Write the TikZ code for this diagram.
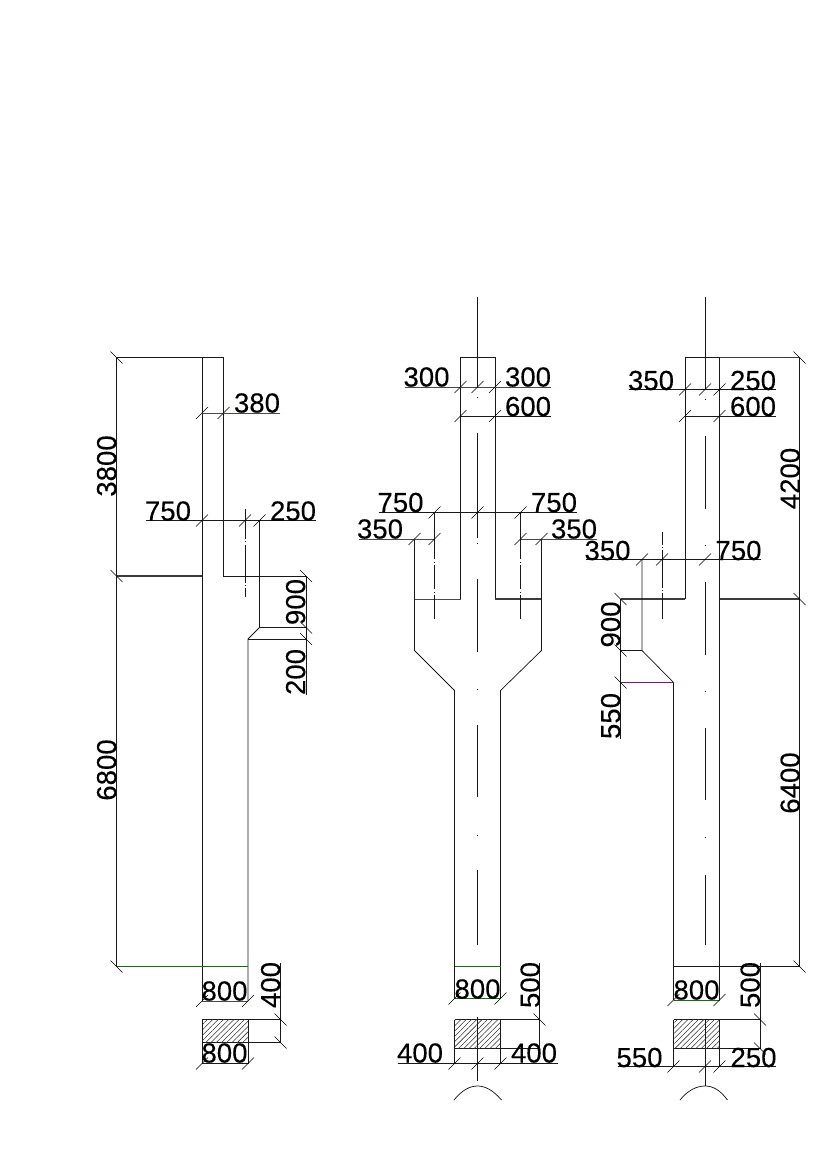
\documentclass[tikz,border=0pt]{standalone}
\usepackage{fontspec}
\setmainfont[FakeBold=0.12]{Liberation Sans}
\usetikzlibrary{patterns.meta}
\definecolor{penline}{gray}{0.1}
\definecolor{dimgreen}{rgb}{0.18,0.36,0.18}
\definecolor{dimpurple}{rgb}{0.36,0.16,0.36}
\tikzset{%
  wall/.style={draw=penline, line width=0.55pt},
  wallthick/.style={draw=penline!85, line width=0.95pt},
  dimgr/.style={draw=dimgreen, line width=0.55pt},
  dimpu/.style={draw=dimpurple, line width=0.55pt},
  axisdash/.style={draw=penline, line width=0.55pt},
  slash/.style={draw=black, line width=0.5pt},
  hatched/.style={pattern={Lines[angle=45,distance=2.8pt,line width=0.4pt]}, pattern color=black!80},
  labbase/.style={inner sep=0pt, font=\fontsize{20.7}{22}\selectfont, text=black},
  lab/.style={labbase, yshift=-0.75pt},
  labv/.style={labbase, xshift=0.5pt, rotate=90},
}
\newcommand{\tickf}[2]{\draw [slash] (#1-6,#2+6) -- (#1+6,#2-6);}
\newcommand{\tickb}[2]{\draw [slash] (#1-6,#2-6) -- (#1+6,#2+6);}
\begin{document}
\begin{tikzpicture}[x=0.75pt,y=-0.75pt]
  \useasboundingbox (0,0) rectangle (826,1169);

  % left column
  \draw [wall] (116.5,357.5) -- (223.5,357.5) -- (223.5,576) -- (306,576);
  \draw [wall] (202,357.5) -- (202,1001);
  \draw [wallthick] (116.5,576) -- (202,576);
  \draw [wall] (259.5,520.5) -- (259.5,627.5) -- (248,639) -- (248,1001);
  \draw [wall] (259.5,627.5) -- (306,627.5);
  \draw [wall] (248,639) -- (306,639);
  \draw [wall] (116.5,357.5) -- (116.5,966.5);
  \draw [dimgr] (116.5,966.5) -- (248,966.5);
  \draw [wall] (306,576) -- (306,695);
  \draw [dimgr] (202,413) -- (280,413);
  \draw [wall] (145.5,520.5) -- (316,520.5);
  \foreach \ya/\yb in {509/539,544.5/582.5,587.5/597}
    {\draw [axisdash] (245,\ya) -- (245,\yb);}
  \foreach \yy in {541.5,585}
    {\draw [axisdash] (244.5,\yy) -- (245.5,\yy);}
  \draw [dimgr] (202,1001) -- (248,1001);
  \draw [wall] (202,1019.5) -- (280.5,1019.5) (202,1042.5) -- (280.5,1042.5);
  \draw [wall] (280.5,963) -- (280.5,1042.5);
  \path [hatched] (202,1019.5) rectangle (248,1042.5);
  \draw [wall] (202,1019.5) -- (202,1063.5) (248,1019.5) -- (248,1063.5);
  \draw [wall] (202,1063.5) -- (248,1063.5);
  \foreach \x/\y in {202/413,223.5/413,202/520.5,245/520.5,259.5/520.5,202/1001,248/1001,202/1063.5,248/1063.5}
    {\tickf{\x}{\y}}
  \foreach \x/\y in {116.5/357.5,116.5/576,116.5/966.5,306/576,306/627.5,306/639,280.5/1019.5,280.5/1042.5}
    {\tickb{\x}{\y}}
  \node (a3800) [labv] at (106,466) {3800};
  \node (a6800) [labv] at (106,770) {6800};
  \node (a380) [lab] at (257,402) {380};
  \node (a750) [lab] at (168,510) {750};
  \node (a250) [lab] at (293,510) {250};
  \node (a900) [labv] at (295,602) {900};
  \node (a200) [labv] at (295,672) {200};
  \node (a800t) [lab] at (224.5,990) {800};
  \node (a400) [labv] at (270,985) {400};
  \node (a800b) [lab] at (224.5,1052) {800};

  % middle column
  \draw [wall] (477.5,297) -- (477.5,387);
  \foreach \ya/\yb in {433/538,579/652,725/797,870/945}
    {\draw [axisdash] (477.5,\ya) -- (477.5,\yb);}
  \foreach \yy in {397,543,689,835}
    {\draw [axisdash] (477,\yy) -- (478,\yy);}
  \draw [wall] (460.5,599) -- (460.5,357.5) -- (495,357.5) -- (495,599);
  \draw [dimgr] (414.5,599) -- (460.5,599);
  \draw [wallthick] (495,599) -- (541.5,599);
  \draw [wall] (414.5,538.5) -- (414.5,650.5) -- (454.5,690.5) -- (454.5,998.5);
  \draw [wall] (541.5,538.5) -- (541.5,650.5) -- (500.5,690.5) -- (500.5,998.5);
  \draw [dimgr] (404.5,387) -- (551,387);
  \draw [wall] (460.5,416) -- (551,416);
  \draw [wall] (378.5,512.5) -- (576.5,512.5);
  \draw [dimgr] (358.5,539) -- (434.5,539) (520.5,539) -- (596.5,539);
  \foreach \x in {434.5,520.5}{
    \foreach \ya/\yb in {512.5/559,565/589,595/619}
      {\draw [axisdash] (\x,\ya) -- (\x,\yb);}
    \foreach \yy in {562,592}
      {\draw [axisdash] (\x,\yy) -- (\x,\yy+1);}
  }
  \draw [dimgr] (454.5,966.5) -- (500.5,966.5);
  \draw [dimgr] (454.5,998.5) -- (500.5,998.5);
  \draw [wall] (454.5,1019.5) -- (539.5,1019.5);
  \draw [wall] (539.5,963) -- (539.5,1048.5);
  \draw [wall] (454.5,1048.5) -- (539.5,1048.5);
  \path [hatched] (454.5,1019.5) rectangle (500.5,1048.5);
  \draw [wall] (454.5,1019.5) -- (454.5,1063.5) (500.5,1019.5) -- (500.5,1063.5);
  \draw [wall] (397.5,1063.5) -- (557.5,1063.5);
  \draw [wall] (477.5,1017) -- (477.5,1081);
  \draw [wall] (454,1100) .. controls (462,1090) and (470,1086) .. (477.5,1086) .. controls (485,1086) and (493,1090) .. (501.5,1100);
  \foreach \x/\y in {460.5/387,477.5/387,495/387,460.5/416,495/416,434.5/512.5,477.5/512.5,520.5/512.5,414.5/539,434.5/539,520.5/539,541.5/539,454.5/998.5,500.5/998.5,454.5/1063.5,477.5/1063.5,500.5/1063.5}
    {\tickf{\x}{\y}}
  \tickb{539.5}{1019.5}
  \node (b300l) [lab] at (426.5,376) {300};
  \node (b300r) [lab] at (528,376) {300};
  \node (b600) [lab] at (528,405.5) {600};
  \node (b750l) [lab] at (400.5,501.5) {750};
  \node (b750r) [lab] at (554,501.5) {750};
  \node (b350l) [lab] at (380,528) {350};
  \node (b350r) [lab] at (574,528) {350};
  \node (b800) [lab] at (477.5,988) {800};
  \node (b500) [labv] at (529.5,985) {500};
  \node (b400l) [lab] at (420,1052) {400};
  \node (b400r) [lab] at (534,1052) {400};

  % right column
  \draw [wall] (705,297) -- (705,389);
  \foreach \ya/\yb in {436/509,582/655,728/800,875/945}
    {\draw [axisdash] (705,\ya) -- (705,\yb);}
  \foreach \yy in {399,545,691,837}
    {\draw [axisdash] (704.5,\yy) -- (705.5,\yy);}
  \draw [wall] (685,599) -- (685,357.5) -- (719.5,357.5) -- (719.5,1000);
  \draw [dimpu] (719.5,357.5) -- (799.5,357.5);
  \draw [wallthick] (620.5,599) -- (685,599);
  \draw [wallthick] (719.5,599) -- (799.5,599);
  \draw [wall] (799.5,357.5) -- (799.5,966.5);
  \draw [wall] (673.5,966.5) -- (799.5,966.5);
  \draw [wall] (620.5,599) -- (620.5,738.5);
  \draw [wall] (642,559.5) -- (642,650.5) -- (673.5,682.5) -- (673.5,1000);
  \draw [wall] (620.5,650.5) -- (642,650.5);
  \draw [dimpu] (620.5,682.5) -- (673.5,682.5);
  \draw [wall] (629,389.5) -- (775.5,389.5);
  \draw [wall] (685,416) -- (775.5,416);
  \draw [wall] (586,559.5) -- (761,559.5);
  \foreach \ya/\yb in {532/545,550/588,593/619}
    {\draw [axisdash] (662,\ya) -- (662,\yb);}
  \foreach \yy in {547,590}
    {\draw [axisdash] (662,\yy) -- (662,\yy+1);}
  \draw [dimgr] (673.5,1000) -- (719.5,1000);
  \draw [wall] (673.5,1019.5) -- (760,1019.5);
  \draw [wall] (673.5,1048.5) -- (760,1048.5);
  \draw [wall] (760,963) -- (760,1048.5);
  \path [hatched] (673.5,1019.5) rectangle (719.5,1048.5);
  \draw [wall] (673.5,1019.5) -- (673.5,1066.5) (719.5,1019.5) -- (719.5,1066.5);
  \draw [wall] (617.5,1066.5) -- (775.5,1066.5);
  \draw [wall] (705,1019.5) -- (705,1086);
  \draw [wall] (680,1100) .. controls (688,1090) and (697,1086) .. (705,1086) .. controls (713,1086) and (720,1090) .. (727.5,1100);
  \foreach \x/\y in {685/389.5,705/389.5,719.5/389.5,685/416,719.5/416,642/559.5,662/559.5,705/559.5,673.5/1000,719.5/1000,673.5/1066.5,705/1066.5,719.5/1066.5}
    {\tickf{\x}{\y}}
  \foreach \x/\y in {799.5/357.5,799.5/599,799.5/966.5,620.5/599,620.5/650.5,620.5/682.5,760/1019.5,760/1048.5}
    {\tickb{\x}{\y}}
  \node (c350t) [lab] at (651,379.5) {350};
  \node (c250t) [lab] at (753,379.5) {250};
  \node (c600) [lab] at (753,405.5) {600};
  \node (c4200) [labv] at (789.5,478.5) {4200};
  \node (c6400) [labv] at (789.5,783) {6400};
  \node (c350m) [lab] at (607.5,549.5) {350};
  \node (c750) [lab] at (738.5,549.5) {750};
  \node (c900) [labv] at (610,624.5) {900};
  \node (c550v) [labv] at (610,716) {550};
  \node (c800) [lab] at (696.5,989) {800};
  \node (c500) [labv] at (749.5,985) {500};
  \node (c550) [lab] at (639.5,1056.5) {550};
  \node (c250) [lab] at (753.5,1056.5) {250};
\end{tikzpicture}
\end{document}
